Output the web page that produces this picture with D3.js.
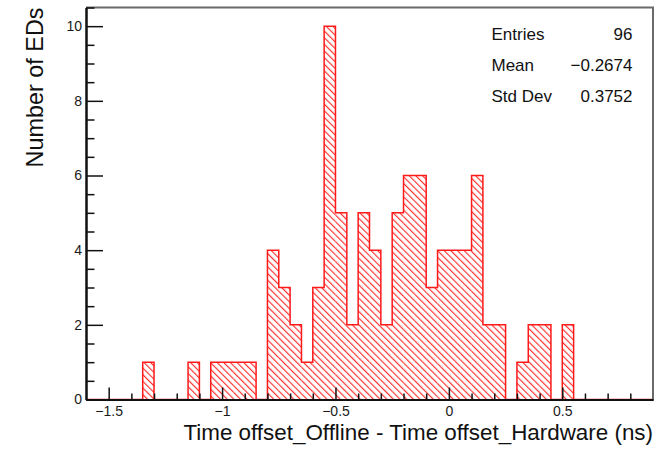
<!DOCTYPE html>
<html>
<head>
<meta charset="utf-8">
<script src="https://cdn.jsdelivr.net/npm/d3@7"></script>
<style>
  html, body { margin: 0; padding: 0; background: #fff; }
  svg { display: block; font-family: "Liberation Sans", Arial, Helvetica, sans-serif; }
</style>
</head>
<body>
<svg id="chart" width="672" height="449"></svg>
<script>
// Histogram range and per-bin counts (50 bins of 0.05 ns from -1.6 to 0.9)
const histRange = [-1.6, 0.9];
const counts = [
  0, 0, 0, 0, 0, 1, 0, 0, 0, 1,
  0, 1, 1, 1, 1, 0, 4, 3, 2, 1,
  3, 10, 5, 2, 5, 4, 2, 5, 6, 6,
  3, 4, 4, 4, 6, 2, 2, 0, 1, 2,
  2, 0, 2, 0, 0, 0, 0, 0, 0, 0
];
const yMax = 10.5;
const xMajorTicks = [-1.5, -1, -0.5, 0, 0.5];
const xMinorTicks = [-1.4, -1.3, -1.2, -1.1, -0.9, -0.8, -0.7, -0.6, -0.4, -0.3, -0.2, -0.1,
                     0.1, 0.2, 0.3, 0.4, 0.6, 0.7, 0.8];
const yMajorTicks = [0, 2, 4, 6, 8, 10];
const yMinorTicks = [0.5, 1, 1.5, 2.5, 3, 3.5, 4.5, 5, 5.5, 6.5, 7, 7.5, 8.5, 9, 9.5, 10.5];
const statLabels = ["Entries", "Mean", "Std Dev"];
const statValues = ["96", "\u22120.2674", "0.3752"];
const xTitle = "Time offset_Offline - Time offset_Hardware (ns)";
const yTitle = "Number of EDs";

const svg = d3.select("#chart");
const frame = { left: 86, right: 653, top: 7.5, bottom: 399.5 };

const x = d3.scaleLinear().domain(histRange).range([frame.left, frame.right]);
const y = d3.scaleLinear().domain([0, yMax]).range([frame.bottom, frame.top]);

const nBins = counts.length;
const binW = (histRange[1] - histRange[0]) / nBins;
const bins = counts.map((c, i) => ({ x0: histRange[0] + i * binW, x1: histRange[0] + (i + 1) * binW, c }));

// Diagonal hatch pattern
const defs = svg.append("defs");
const pat = defs.append("pattern")
  .attr("id", "hatch")
  .attr("patternUnits", "userSpaceOnUse")
  .attr("width", 4.7).attr("height", 4.7)
  .attr("patternTransform", "rotate(-45)");
pat.append("line")
  .attr("x1", 0.6).attr("y1", -1).attr("x2", 0.6).attr("y2", 6)
  .attr("stroke", "#ff1a1a").attr("stroke-width", 1.05);

// Hatched bin fills
svg.append("g").selectAll("rect")
  .data(bins.filter(b => b.c > 0))
  .join("rect")
  .attr("x", b => x(b.x0))
  .attr("y", b => y(b.c))
  .attr("width", b => x(b.x1) - x(b.x0))
  .attr("height", b => y(0) - y(b.c))
  .attr("fill", "url(#hatch)");

// Step outline of the histogram
const pts = [];
bins.forEach((b, i) => {
  if (i === 0) pts.push([x(b.x0), y(0)]);
  pts.push([x(b.x0), y(b.c)]);
  pts.push([x(b.x1), y(b.c)]);
});
pts.push([x(histRange[1]), y(0)]);
svg.append("path")
  .attr("d", d3.line()(pts))
  .attr("fill", "none")
  .attr("stroke", "#ff1a1a")
  .attr("stroke-width", 1.5)
  .attr("stroke-linejoin", "miter");

// Frame top and right
svg.append("path")
  .attr("d", `M${frame.left},${frame.top}H${frame.right}V${frame.bottom}`)
  .attr("fill", "none").attr("stroke", "#6a6a6a").attr("stroke-width", 2);

// X axis
const xAxisG = svg.append("g").attr("transform", `translate(0,${frame.bottom})`);
xAxisG.append("g").call(d3.axisBottom(x).tickValues(xMinorTicks).tickSize(-6).tickSizeOuter(0).tickFormat(""));
xAxisG.append("g").call(d3.axisBottom(x).tickValues(xMajorTicks).tickSize(-12).tickSizeOuter(0).tickPadding(7)
  .tickFormat(d3.format("~g")));

// Y axis
const yAxisG = svg.append("g").attr("transform", `translate(${frame.left},0)`);
yAxisG.append("g").call(d3.axisLeft(y).tickValues(yMinorTicks).tickSize(-8.5).tickSizeOuter(0).tickFormat(""));
yAxisG.append("g").call(d3.axisLeft(y).tickValues(yMajorTicks).tickSize(-17).tickSizeOuter(0).tickPadding(4)
  .tickFormat(d3.format("~g")));

svg.selectAll(".domain").attr("stroke", "#111").attr("stroke-width", 2);
svg.selectAll(".tick line").attr("stroke", "#111").attr("stroke-width", 1.5);
svg.selectAll(".tick text").attr("font-size", 14).attr("fill", "#1a1a1a")
  .attr("font-family", "Liberation Sans, Arial, sans-serif");

// Axis titles
svg.append("text")
  .attr("x", frame.right).attr("y", 440)
  .attr("text-anchor", "end")
  .attr("font-size", 22.4).attr("fill", "#111")
  .text(xTitle);
svg.append("text")
  .attr("transform", `translate(43,${frame.top}) rotate(-90)`)
  .attr("text-anchor", "end")
  .attr("font-size", 23.4).attr("fill", "#111")
  .text(yTitle);

// Statistics box
const statsG = svg.append("g").attr("font-size", 17).attr("fill", "#111");
statLabels.forEach((lab, i) => {
  const by = 40 + i * 31;
  statsG.append("text").attr("x", 491.5).attr("y", by).text(lab);
  statsG.append("text").attr("x", 632.5).attr("y", by).attr("text-anchor", "end").text(statValues[i]);
});
</script>
</body>
</html>
